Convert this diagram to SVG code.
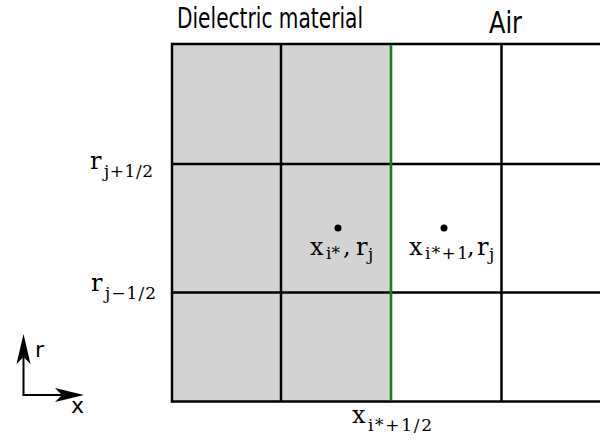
<svg xmlns="http://www.w3.org/2000/svg" width="600" height="441" viewBox="0 0 600 441">
  <defs>
    <style>
      .grid { stroke: #000; stroke-width: 2.5; fill: none; }
      .iface { stroke: #1a7f1a; stroke-width: 2.6; fill: none; }
      .ttl { font-family: "DejaVu Sans Condensed", "DejaVu Sans", sans-serif; font-stretch: condensed; fill: #000; }
      .m { font-family: "DejaVu Serif", "Liberation Serif", serif; font-size: 24px; fill: #000; }
      .s { font-family: "DejaVu Serif", "Liberation Serif", serif; font-size: 17px; fill: #000; }
      .ax { font-family: "DejaVu Sans", sans-serif; font-size: 22px; fill: #000; }
      .axl { stroke: #000; stroke-width: 2; fill: none; }
    </style>
  </defs>
  <rect width="600" height="441" fill="#fff"/>

  <g id="dielectric-region">
    <rect x="172" y="44" width="219" height="357" fill="#d3d3d3"/>
  </g>

  <g id="grid-lines">
    <line class="grid" x1="172" y1="44" x2="600" y2="44"/>
    <line class="grid" x1="172" y1="164" x2="600" y2="164"/>
    <line class="grid" x1="172" y1="292.5" x2="600" y2="292.5"/>
    <line class="grid" x1="172" y1="401.5" x2="600" y2="401.5"/>
    <line class="grid" x1="172" y1="42.8" x2="172" y2="402.7"/>
    <line class="grid" x1="281" y1="44" x2="281" y2="401.5"/>
    <line class="grid" x1="501.5" y1="44" x2="501.5" y2="401.5"/>
    <line class="iface" x1="391" y1="45.2" x2="391" y2="400.3"/>
  </g>

  <g id="titles">
    <text class="ttl" x="177" y="28" font-size="28" textLength="186" lengthAdjust="spacingAndGlyphs">Dielectric material</text>
    <text class="ttl" x="489" y="33" font-size="30" textLength="33" lengthAdjust="spacingAndGlyphs">Air</text>
  </g>

  <g id="label-r-jp">
    <text class="m" x="90" y="169">r</text>
    <text class="s" x="104" y="177" textLength="49" lengthAdjust="spacing">j+1/2</text>
  </g>
  <g id="label-r-jm">
    <text class="m" x="91" y="291">r</text>
    <text class="s" x="105" y="299" textLength="51" lengthAdjust="spacing">j−1/2</text>
  </g>

  <g id="point-left">
    <circle cx="338" cy="228" r="3.5" fill="#000"/>
    <text class="m" x="310" y="255">x</text>
    <text class="s" x="326" y="259" textLength="14" lengthAdjust="spacing">i*</text>
    <text class="m" x="343" y="255">,</text>
    <text class="m" x="356" y="255">r</text>
    <text class="s" x="368" y="260">j</text>
  </g>

  <g id="point-right">
    <circle cx="444" cy="228" r="3.5" fill="#000"/>
    <text class="m" x="409" y="255">x</text>
    <text class="s" x="425" y="259" textLength="43" lengthAdjust="spacing">i*+1</text>
    <text class="m" x="467" y="255">,</text>
    <text class="m" x="477" y="255">r</text>
    <text class="s" x="489" y="260">j</text>
  </g>

  <g id="label-x-half">
    <text class="m" x="352" y="423">x</text>
    <text class="s" x="368" y="431" textLength="64" lengthAdjust="spacing">i*+1/2</text>
  </g>

  <g id="axes">
    <line class="axl" x1="23.5" y1="395" x2="23.5" y2="352"/>
    <line class="axl" x1="22.5" y1="395" x2="68" y2="395"/>
    <path d="M23.5,334 L30.5,364 L23.5,357 L16.5,364 Z" fill="#000"/>
    <path d="M84,395 L55,388 L62,395 L55,402 Z" fill="#000"/>
    <text class="ax" x="35" y="357">r</text>
    <text class="ax" x="71" y="413">x</text>
  </g>
</svg>
